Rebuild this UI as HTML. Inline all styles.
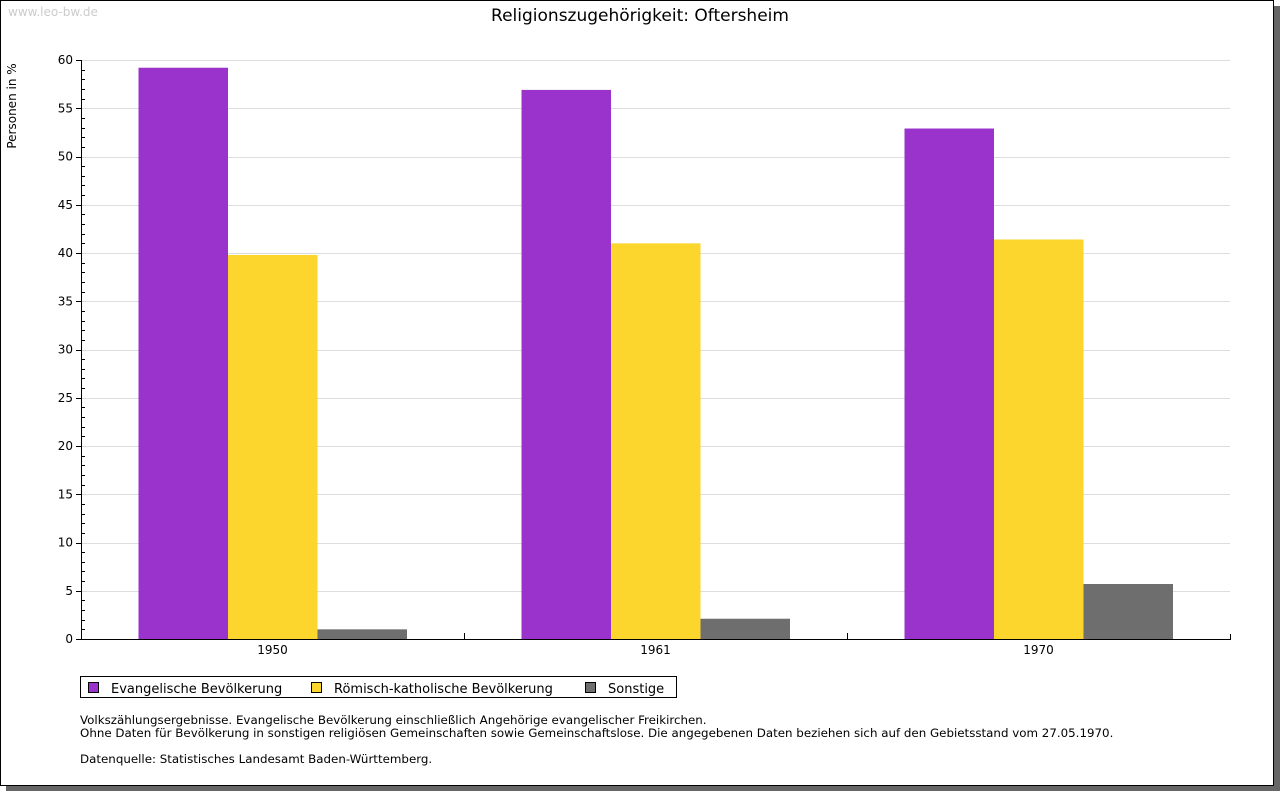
<!DOCTYPE html>
<html><head><meta charset="utf-8"><style>
body{margin:0;background:#fff;width:1280px;height:791px;overflow:hidden;font-family:"DejaVu Sans","Liberation Sans",sans-serif}
svg text{font-family:"DejaVu Sans","Liberation Sans",sans-serif}
</style></head><body>
<svg id="c" width="1280" height="791" xmlns="http://www.w3.org/2000/svg">
<rect x="6" y="6" width="1274" height="785" fill="#666"/>
<rect x="0.5" y="0.5" width="1273" height="785" fill="#fff" stroke="#000"/>
<text x="8" y="16" font-size="12" fill="#ccc">www.leo-bw.de</text>
<text x="640" y="21" font-size="17" text-anchor="middle" fill="#000">Religionszugehörigkeit: Oftersheim</text>
<text transform="translate(16,106) rotate(-90)" font-size="12" text-anchor="middle">Personen in %</text>
<g id="grid"></g><g id="bars"></g><g id="axes"></g>
<rect x="80.5" y="676.5" width="596" height="21" fill="#fff" stroke="#000"/>
<rect x="88.5" y="682.5" width="10" height="10" fill="#9933cc" stroke="#000"/>
<text x="111" y="693" font-size="13">Evangelische Bevölkerung</text>
<rect x="311.5" y="682.5" width="10" height="10" fill="#fcd52d" stroke="#000"/>
<text x="334" y="693" font-size="13">Römisch-katholische Bevölkerung</text>
<rect x="585.5" y="682.5" width="10" height="10" fill="#6e6e6e" stroke="#000"/>
<text x="608" y="693" font-size="13">Sonstige</text>
<text font-size="11.85"><tspan x="80" y="724">Volkszählungsergebnisse. Evangelische Bevölkerung einschließlich Angehörige evangelischer Freikirchen.</tspan><tspan x="80" y="737">Ohne Daten für Bevölkerung in sonstigen religiösen Gemeinschaften sowie Gemeinschaftslose. Die angegebenen Daten beziehen sich auf den Gebietsstand vom 27.05.1970.</tspan><tspan x="80" y="763">Datenquelle: Statistisches Landesamt Baden-Württemberg.</tspan></text>
</svg>
<script>
const categories=["1950","1961","1970"];
const evangelisch=[59.2,56.9,52.9];
const katholisch=[39.8,41.0,41.4];
const sonstige=[1.0,2.1,5.7];
const yTicks=[0,5,10,15,20,25,30,35,40,45,50,55,60];
const NS="http://www.w3.org/2000/svg";
const X0=81,X1=1230,Y0=639,Y1=60,YMAX=60;
const y=v=>Y0-(v/YMAX)*(Y0-Y1);
const gw=(X1-X0)/categories.length;
function mk(tag,attrs,parent){const e=document.createElementNS(NS,tag);for(const k in attrs)e.setAttribute(k,attrs[k]);document.getElementById(parent).appendChild(e);return e;}
yTicks.forEach(t=>{
  const l=mk('line',{x1:X0,x2:X1,y1:Math.round(y(t))+0.5,y2:Math.round(y(t))+0.5,stroke:'#ddd'},'grid');
  
  
  const tk=mk('line',{x1:X0-5,x2:X0,y1:Math.round(y(t))+0.5,y2:Math.round(y(t))+0.5,stroke:'#000'},'axes');
  
  
  const tx=mk('text',{x:X0-8,y:y(t)+4,'font-size':12,'text-anchor':'end'},'axes');
  tx.textContent=t;
  
  
});
for(let v=0;v<YMAX;v++){if(v%5===0)continue;
  const m=mk('line',{x1:X0,x2:X0+4,y1:Math.round(y(v))+0.5,y2:Math.round(y(v))+0.5,stroke:'#000'},'axes');
  
  }
const series=[[evangelisch,'#9933cc','evangelisch'],[katholisch,'#fcd52d','katholisch'],[sonstige,'#6e6e6e','sonstige']];
const bw=89.5;
categories.forEach((c,i)=>{
  const gx=X0+i*gw;
  series.forEach(([arr,col,nm],j)=>{
    const r=mk('rect',{x:gx+57.5+j*bw,y:y(arr[i]),width:bw,height:Y0-y(arr[i]),fill:col},'bars');
    
    
  });
  const tx=mk('text',{x:gx+gw/2,y:Y0+15,'font-size':12,'text-anchor':'middle'},'axes');
  tx.textContent=c;
  
  
  if(i>0){const t=mk('line',{x1:Math.round(gx)+0.5,x2:Math.round(gx)+0.5,y1:Y0-6,y2:Y0,stroke:'#000'},'axes');
  
  }
});
const ax=mk('path',{d:`M${X0+0.5},${Y1} V${Y0+0.5} H${X1+0.5} V${Y0-5}`,fill:'none',stroke:'#000'},'axes');


</script>
</body></html>
